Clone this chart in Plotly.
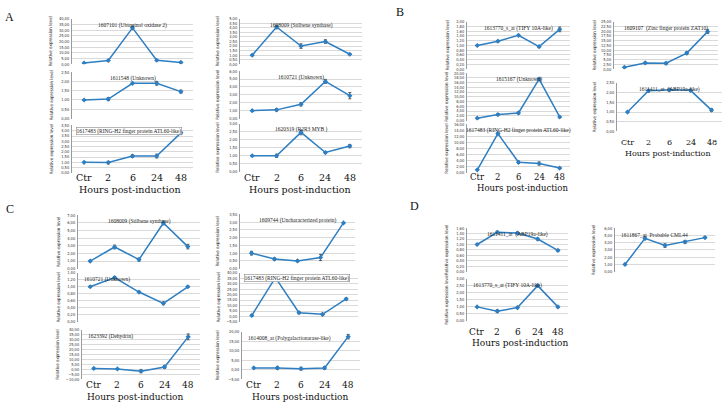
import plotly.graph_objects as go

W, H = 726, 407
tick_labels = ["Ctr", "2", "6", "24", "48"]
x_axis_title = "Hours post-induction"
y_axis_title = "Relative expression level"

# ---- data (relative expression, mean and error) ----
a_ubiquinol = [1.0, 3.3, 32.0, 3.5, 1.6]
a_ubiquinol_err = [0.2, 0.4, 1.5, 0.4, 0.3]
a_unknown1611548 = [1.0, 1.05, 1.9, 1.9, 1.45]
a_unknown1611548_err = [0.0, 0.08, 0.03, 0.1, 0.08]
a_atl60 = [1.0, 0.98, 1.6, 1.6, 3.8]
a_atl60_err = [0.0, 0.12, 0.12, 0.18, 0.12]
a_stilbene = [1.0, 4.1, 2.0, 2.5, 1.1]
a_stilbene_err = [0.0, 0.2, 0.25, 0.2, 0.05]
a_unknown1610721 = [1.0, 1.1, 1.8, 4.7, 2.9]
a_unknown1610721_err = [0.0, 0.15, 0.2, 0.25, 0.4]
a_myb = [1.0, 1.0, 2.45, 1.2, 1.6]
a_myb_err = [0.0, 0.1, 0.15, 0.05, 0.1]

b_tify = [1.0, 1.18, 1.43, 0.95, 1.68]
b_tify_err = [0.0, 0.03, 0.02, 0.03, 0.1]
b_unknown1615167 = [1.0, 2.5, 3.2, 17.5, 1.5]
b_unknown1615167_err = [0.0, 0.4, 0.5, 0.6, 0.3]
b_atl60 = [1.0, 13.0, 3.5, 3.1, 1.6]
b_atl60_err = [0.0, 0.3, 0.4, 0.5, 0.2]
b_zat10 = [1.0, 3.3, 3.1, 8.5, 19.8]
b_zat10_err = [0.0, 0.4, 0.6, 0.8, 1.0]
b_abp19 = [1.0, 2.1, 2.15, 2.12, 1.1]
b_abp19_err = [0.0, 0.07, 0.05, 0.05, 0.07]

c_stilbene = [1.0, 2.85, 1.2, 6.0, 2.9]
c_stilbene_err = [0.1, 0.25, 0.2, 0.25, 0.3]
c_unknown1610721 = [1.0, 1.26, 0.85, 0.53, 1.0]
c_unknown1610721_err = [0.02, 0.03, 0.02, 0.04, 0.02]
c_dehydrin = [1.0, 0.5, -1.8, 2.5, 33.0]
c_dehydrin_err = [0.3, 0.3, 1.5, 1.5, 3.0]
c_uncharacterized = [1.0, 0.62, 0.5, 0.72, 2.95]
c_uncharacterized_err = [0.12, 0.08, 0.06, 0.2, 0.03]
c_atl60 = [1.0, 35.5, 3.5, 2.0, 16.0]
c_atl60_err = [0.3, 0.5, 1.0, 1.0, 1.0]
c_polygalact = [1.0, 1.0, 0.6, 1.0, 17.5]
c_polygalact_err = [0.2, 0.8, 0.7, 0.7, 1.2]

d_abp19 = [1.0, 1.45, 1.42, 1.2, 0.78]
d_abp19_err = [0.0, 0.04, 0.04, 0.04, 0.03]
d_tify = [1.0, 0.7, 0.95, 2.5, 1.0]
d_tify_err = [0.0, 0.1, 0.08, 0.1, 0.05]
d_cml44 = [1.0, 4.6, 3.6, 4.1, 4.7]
d_cml44_err = [0.0, 0.2, 0.25, 0.2, 0.1]

# ---- layout specs: (title, values, errors, x0, x1, ytop, ybot, ymin, ymax, dtick, title_align, ylabel_x)
panels = [
    ("1607101 (Ubiquinol oxidase 2)", a_ubiquinol, a_ubiquinol_err, 72, 193, 16, 62, 0, 40, 5, "c", 51),
    ("1611548 (Unknown)", a_unknown1611548, a_unknown1611548_err, 72, 193, 70, 117, 0, 2.5, 0.5, "c", 51),
    ("1617483 (RING-H2 finger protein ATL60-like)", a_atl60, a_atl60_err, 72, 193, 124, 172, 0, 4.5, 0.5, "box", 51),
    ("1608009 (Stilbene synthase)", a_stilbene, a_stilbene_err, 240, 362, 16, 62, 0, 5, 0.5, "c", 218),
    ("1610721 (Unknown)", a_unknown1610721, a_unknown1610721_err, 240, 362, 69, 117, 0, 6, 1, "c", 218),
    ("1620319 (R2R3 MYB )", a_myb, a_myb_err, 240, 362, 122, 171, 0, 3, 0.5, "c", 218),
    ("1613770_s_at (TIFY 10A-like)", b_tify, b_tify_err, 467, 570, 19, 67, 0, 2, 0.2, "c", 447),
    ("1615167 (Unknown)", b_unknown1615167, b_unknown1615167_err, 467, 570, 71, 119, 0, 20, 2, "c", 447),
    ("1617483 (RING-H2 finger protein ATL60-like)", b_atl60, b_atl60_err, 467, 570, 123, 172, 0, 16, 2, "c", 447),
    ("1609107  (Zinc finger protein ZAT10)", b_zat10, b_zat10_err, 614, 718, 19, 67, 0, 25, 2.5, "c", 594),
    ("1611411_at  (ABP19a-like)", b_abp19, b_abp19_err, 617, 722, 81, 130, 0, 2.5, 0.5, "c", 594),
    ("1608009 (Stilbene synthase)", c_stilbene, c_stilbene_err, 78, 200, 215, 269, 0, 7, 1, "c", 58),
    ("1610721 (Unknown)", c_unknown1610721, c_unknown1610721_err, 78, 200, 273, 323, 0, 1.4, 0.2, "l", 58),
    ("1623392 (Dehydrin)", c_dehydrin, c_dehydrin_err, 82, 200, 331, 381, -10, 40, 5, "l", 58),
    ("1609744 (Uncharacterized protein)", c_uncharacterized, c_uncharacterized_err, 240, 355, 214, 269, 0, 3.5, 0.5, "c", 218),
    ("1617483 (RING-H2 finger protein ATL60-like)", c_atl60, c_atl60_err, 240, 358, 273, 323, -5, 40, 5, "box", 218),
    ("1614008_at (Polygalactionarase-like)", c_polygalact, c_polygalact_err, 242, 360, 333, 381, -5, 20, 5, "l", 218),
    ("1611411_at  (ABP19a-like)", d_abp19, d_abp19_err, 467, 568, 228, 272, 0, 1.6, 0.2, "c", 447),
    ("1613770_s_at (TIFY 10A-like)", d_tify, d_tify_err, 467, 568, 279, 322, 0, 3, 0.5, "l", 447),
    ("1611867_at  Probable CML44", d_cml44, d_cml44_err, 615, 715, 228, 272, 0, 6, 1, "l", 594),
]

# bottom label groups: (axis index of bottom panel, tick-row y, title x center, title y, font size)
bottom_groups = [
    (3, 177, 130, 188.5, 9.5),
    (6, 177, 300, 188.5, 9.5),
    (9, 176, 522, 187, 8.5),
    (11, 141, 668, 152, 8),
    (14, 387, 135, 398.5, 9),
    (17, 387, 300, 398.5, 9),
    (19, 333, 520, 344, 9),
]

letters = [("A", 9, 14), ("B", 400, 9), ("C", 10, 209), ("D", 414, 206)]

LINE = "#2E7EC2"
GRID = "#D0D0D0"
SERIF = "Liberation Serif"
WIDE_SERIF = "DejaVu Serif"
NARROW = "Liberation Sans Narrow, DejaVu Sans Condensed, Liberation Sans"


def fx(x):
    return x / W


def fy(y):
    return 1 - y / H


fig = go.Figure()
annotations = []
layout = {}
cats = list(range(len(tick_labels)))

for i, (title, vals, errs, x0, x1, yt, yb, ymin, ymax, dt, talign, ylx) in enumerate(panels, start=1):
    xs = "" if i == 1 else str(i)
    fig.add_trace(go.Scatter(
        x=cats, y=vals, mode="lines+markers",
        line=dict(color=LINE, width=1.5),
        marker=dict(symbol="diamond", size=4, color=LINE),
        error_y=dict(type="data", array=errs, color="#3a3a3a", thickness=0.8, width=1.5),
        xaxis="x" + xs, yaxis="y" + xs, showlegend=False,
    ))
    layout["xaxis" + xs] = dict(
        domain=[fx(x0), fx(x1)], anchor="y" + xs, range=[-0.5, len(cats) - 0.5],
        showticklabels=False, showgrid=False, zeroline=False, showline=False, fixedrange=True,
    )
    layout["yaxis" + xs] = dict(
        domain=[fy(yb), fy(yt)], anchor="x" + xs, range=[ymin, ymax],
        tickmode="linear", tick0=ymin, dtick=dt, tickformat=".2f",
        showgrid=True, gridcolor=GRID, gridwidth=0.8, zeroline=False,
        showline=True, linecolor="#9a9a9a", linewidth=1,
        tickfont=dict(size=4, family=NARROW, color="#333"), ticks="",
        ticklabelstandoff=1,
    )
    if talign == "c":
        annotations.append(dict(text=title, xref="paper", yref="paper", x=fx((x0 + x1) / 2), y=fy(yt + 1),
                                xanchor="center", yanchor="top", showarrow=False,
                                font=dict(size=5.5, family=SERIF, color="#222")))
    else:
        ann = dict(text=title, xref="paper", yref="paper", x=fx(x0 + 4), y=fy(yt + 1.5),
                   xanchor="left", yanchor="top", showarrow=False,
                   font=dict(size=5.5, family=SERIF, color="#222"))
        if talign == "box":
            ann.update(bordercolor="#888", borderwidth=0.6, borderpad=0, bgcolor="white")
        annotations.append(ann)
    annotations.append(dict(text=y_axis_title, xref="paper", yref="paper", x=fx(ylx), y=fy((yt + yb) / 2),
                            textangle=-90, showarrow=False, xanchor="center", yanchor="middle",
                            font=dict(size=4.5, family=NARROW, color="#222")))

for ax_i, ytick, tx, ty, fs in bottom_groups:
    xs = "" if ax_i == 1 else str(ax_i)
    for j, lab in enumerate(tick_labels):
        annotations.append(dict(text=lab, xref="x" + xs, yref="paper", x=cats[j], y=fy(ytick),
                                xanchor="center", yanchor="middle", showarrow=False,
                                font=dict(size=fs, family=WIDE_SERIF, color="#111")))
    annotations.append(dict(text=x_axis_title, xref="paper", yref="paper", x=fx(tx), y=fy(ty),
                            xanchor="center", yanchor="middle", showarrow=False,
                            font=dict(size=fs, family=WIDE_SERIF, color="#111")))

for t, x, y in letters:
    annotations.append(dict(text=t, xref="paper", yref="paper", x=fx(x), y=fy(y),
                            xanchor="center", yanchor="middle", showarrow=False,
                            font=dict(size=12, family=SERIF, color="#111")))

fig.update_layout(
    width=W, height=H, margin=dict(l=0, r=0, t=0, b=0),
    paper_bgcolor="white", plot_bgcolor="white",
    separators=",.", annotations=annotations, **layout,
)

fig.write_html("out.html", config={"displayModeBar": False, "staticPlot": True})

# remove the browser's default 8px body margin so the figure sits at the page origin
with open("out.html", "r", encoding="utf-8") as f:
    html = f.read()
html = html.replace("<head>", "<head><style>html,body{margin:0;padding:0;overflow:hidden;}</style>", 1)
with open("out.html", "w", encoding="utf-8") as f:
    f.write(html)
